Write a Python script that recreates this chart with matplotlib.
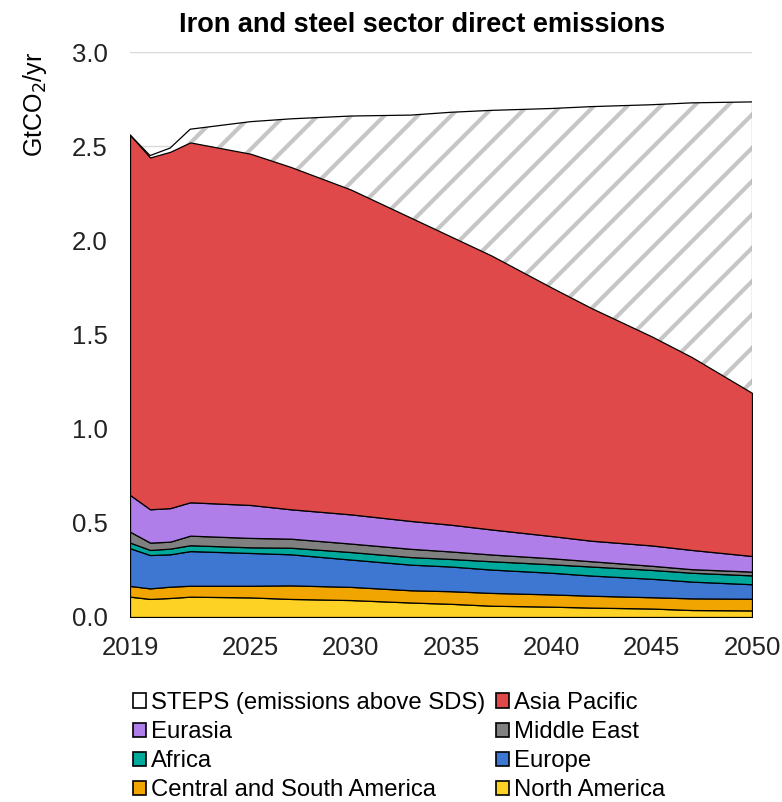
import numpy as np
import matplotlib
matplotlib.use("Agg")
import matplotlib.pyplot as plt
from matplotlib.patches import Patch

plt.rcParams['font.family'] = ['Liberation Sans', 'DejaVu Sans']
plt.rcParams['hatch.linewidth'] = 3.0

years = [2019, 2020, 2021, 2022, 2025, 2027, 2030, 2033, 2035, 2037, 2040, 2042, 2045, 2047, 2050]

# GtCO2/yr
north_america = [0.108, 0.096, 0.101, 0.108, 0.104, 0.096, 0.090, 0.077, 0.070, 0.060, 0.055, 0.050, 0.045, 0.037, 0.035]
central_south_america = [0.057, 0.056, 0.060, 0.058, 0.062, 0.072, 0.070, 0.065, 0.067, 0.068, 0.065, 0.063, 0.060, 0.062, 0.062]
europe = [0.200, 0.177, 0.172, 0.184, 0.174, 0.165, 0.145, 0.136, 0.131, 0.124, 0.115, 0.107, 0.098, 0.089, 0.077]
africa = [0.030, 0.027, 0.030, 0.031, 0.030, 0.035, 0.040, 0.040, 0.040, 0.044, 0.045, 0.048, 0.047, 0.047, 0.047]
middle_east = [0.058, 0.039, 0.037, 0.051, 0.050, 0.048, 0.045, 0.044, 0.040, 0.036, 0.032, 0.028, 0.022, 0.019, 0.020]
eurasia = [0.195, 0.177, 0.178, 0.177, 0.175, 0.156, 0.155, 0.148, 0.142, 0.133, 0.118, 0.109, 0.108, 0.102, 0.083]
asia_pacific = [1.912, 1.868, 1.892, 1.911, 1.865, 1.818, 1.725, 1.610, 1.530, 1.455, 1.320, 1.235, 1.110, 1.024, 0.866]
steps_above_sds = [0.0, 0.01, 0.02, 0.07, 0.17, 0.255, 0.39, 0.545, 0.66, 0.77, 0.95, 1.07, 1.23, 1.35, 1.545]

labels = ['North America', 'Central and South America', 'Europe', 'Africa',
          'Middle East', 'Eurasia', 'Asia Pacific', 'STEPS (emissions above SDS)']
colors = ['#fdd224', '#f0a500', '#3e77d1', '#00a99c', '#808080', '#b07ee9', '#e04949', 'white']

fig = plt.figure(figsize=(7.82, 8.02), dpi=100)
ax = fig.add_axes([130/782, 1-617/802, 622/782, 565/802])

series = [north_america, central_south_america, europe, africa,
          middle_east, eurasia, asia_pacific]
ax.stackplot(years, *series, colors=colors[:-1], edgecolor='black', linewidth=0.9, zorder=3)

# STEPS band on top, grey hatch
sds_total = np.sum(series, axis=0)
steps_total = sds_total + np.array(steps_above_sds)
ax.fill_between(years, sds_total, steps_total, facecolor='white', edgecolor='#c6c6c6',
                hatch='/', linewidth=0, zorder=2)
ax.plot(years, steps_total, color='black', lw=0.9, zorder=4)
ax.plot([2050, 2050], [sds_total[-1], steps_total[-1]], color='#808080', lw=0.9, zorder=4)

ax.set_xlim(2019, 2050)
ax.set_ylim(0, 3.0)
ax.set_xticks([2019, 2025, 2030, 2035, 2040, 2045, 2050])
ax.set_yticks(np.arange(0, 3.01, 0.5))
ax.yaxis.set_major_formatter(matplotlib.ticker.FormatStrFormatter('%.1f'))
ax.tick_params(axis='both', length=0, labelsize=18.5, colors='#222222')
ax.tick_params(axis='y', pad=16)
ax.tick_params(axis='x', pad=14)
ax.grid(axis='y', color='#d9d9d9', lw=1, zorder=0)
ax.set_axisbelow(True)
for s in ['top', 'right', 'left']:
    ax.spines[s].set_visible(False)
ax.spines['bottom'].set_color('#a6a6a6')

fig.text(422/782, 1-25/802, 'Iron and steel sector direct emissions',
         ha='center', va='center', fontsize=19.5, fontweight='bold')
fig.text(35/782, 1-104/802, 'GtCO$_2$/yr', rotation=90, ha='center', va='center', fontsize=18)

# legend, row-wise order
order = [7, 5, 3, 1, 6, 4, 2, 0]
handles = []
for i in order:
    h = Patch(facecolor=colors[i], edgecolor='black', linewidth=1.2)
    handles.append(h)
fig.legend(handles, [labels[i] for i in order], ncol=2, loc='upper left',
           bbox_to_anchor=(133/782, 1-692/802), frameon=False, fontsize=17.2,
           handlelength=0.55, handleheight=0.55, handletextpad=0.2,
           labelspacing=0.3, columnspacing=0.45, borderpad=0, borderaxespad=0)

fig.savefig('out.png', dpi=100)
